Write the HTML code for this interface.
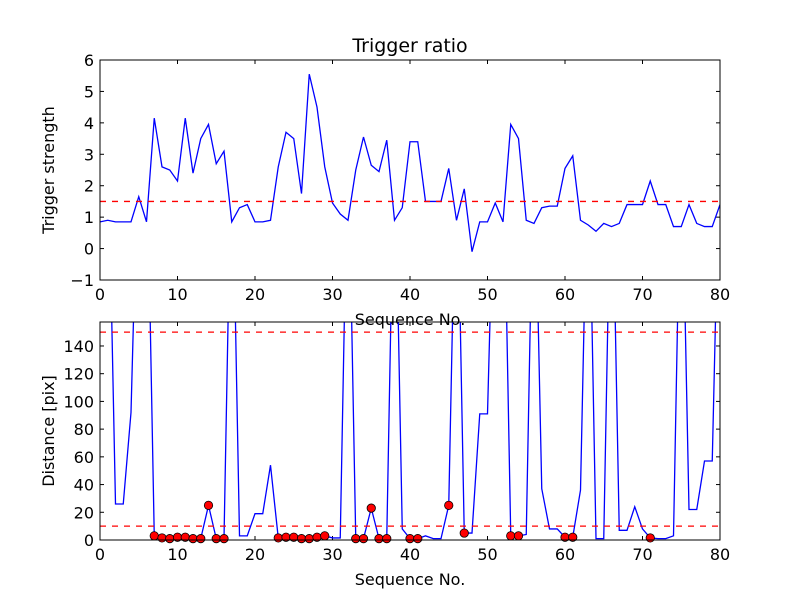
<!DOCTYPE html>
<html><head><meta charset="utf-8"><style>
body{margin:0;background:#fff;}
svg text{font-family:"DejaVu Sans","Liberation Sans",sans-serif;fill:#000;}
</style></head><body>
<svg id="fig" width="800" height="600" viewBox="0 0 800 600" xmlns="http://www.w3.org/2000/svg">
<rect width="800" height="600" fill="#fff"/>
</svg>
<script>
const seqIndex = Array.from({length:81},(_, i)=>i);
const triggerStrength = [0.85,0.9,0.85,0.85,0.85,1.65,0.85,4.15,2.6,2.5,2.15,4.15,2.4,3.5,3.95,2.7,3.1,0.85,1.3,1.4,0.85,0.85,0.9,2.6,3.7,3.5,1.75,5.55,4.5,2.6,1.45,1.1,0.9,2.5,3.55,2.65,2.45,3.45,0.9,1.3,3.4,3.4,1.5,1.5,1.5,2.55,0.9,1.9,-0.1,0.85,0.85,1.45,0.85,3.95,3.5,0.9,0.8,1.3,1.35,1.35,2.55,2.95,0.9,0.75,0.55,0.8,0.7,0.8,1.4,1.4,1.4,2.15,1.4,1.4,0.7,0.7,1.4,0.8,0.7,0.7,1.4];
const distance = [300,300,26,26,92,300,300,3,1.5,1,2,2,1,1,25,1,1,300,3,3,19,19,54,1.5,2,2,1,1,2,3,1.5,1.5,300,1,1,23,1,1,300,8,1,1,3,1,1,25,300,5,5,91,91,300,300,3,3,4,300,37,8,8,2,2,36,300,1,1,300,7,7,24,8,1.5,1,1,3,300,22,22,57,57,300];
const dotIdx = [7,8,9,10,11,12,13,14,15,16,23,24,25,26,27,28,29,33,34,35,36,37,40,41,45,47,53,54,60,61,71];
const xTicks = [0,10,20,30,40,50,60,70,80];
const topYTicks = [-1,0,1,2,3,4,5,6];
const botYTicks = [0,20,40,60,80,100,120,140];
const topThreshold = 1.5;
const botThresholds = [10,150];

const NS='http://www.w3.org/2000/svg';
const svg=document.getElementById('fig');
function mk(tag,attrs,parent){const e=document.createElementNS(NS,tag);for(const k in attrs)e.setAttribute(k,attrs[k]);(parent||svg).appendChild(e);return e;}
const X0=100,X1=720;
const xs=v=>X0+(v-0)/80*(X1-X0);

function axes(name,top,bottom,ymin,ymax,yticks,ylabel,title){
  const g=mk('g',{});
  
  
  const ys=v=>bottom-(v-ymin)/(ymax-ymin)*(bottom-top);
  const clipId=name+'-clip';
  const cp=mk('clipPath',{id:clipId},g);mk('rect',{x:X0,y:top,width:X1-X0,height:bottom-top},cp);
  // x ticks
  xTicks.forEach(t=>{
    const x=xs(t);
    mk('line',{x1:x,y1:bottom,x2:x,y2:bottom-4,stroke:'#000'},g);
    mk('line',{x1:x,y1:top,x2:x,y2:top+4,stroke:'#000'},g);
    const tx=mk('text',{x:x,y:bottom+20,'text-anchor':'middle','font-size':'16'},g);
    
    
    tx.textContent=t;
  });
  yticks.forEach(t=>{
    const y=ys(t);
    mk('line',{x1:X0,y1:y,x2:X0+4,y2:y,stroke:'#000'},g);
    mk('line',{x1:X1,y1:y,x2:X1-4,y2:y,stroke:'#000'},g);
    const tx=mk('text',{x:X0-6,y:y+6,'text-anchor':'end','font-size':'16'},g);
    
    
    tx.textContent=t<0?'\u2212'+(-t):t;
  });
  const xl=mk('text',{x:(X0+X1)/2,y:bottom+45,'text-anchor':'middle','font-size':'16'},g);
  
  
  xl.textContent='Sequence No.';
  const yl=mk('text',{x:0,y:0,'text-anchor':'middle','font-size':'16',transform:`translate(${X0-46},${(top+bottom)/2}) rotate(-90)`},g);
  
  
  yl.textContent=ylabel;
  if(title){const tt=mk('text',{x:(X0+X1)/2,y:top-8,'text-anchor':'middle','font-size':'19'},g);
    
    
    tt.textContent=title;}
  return {g,ys,clipId,top,bottom};
}

// Top
const A=axes('trigger-axes',60,280,-1,6,topYTicks,'Trigger strength','Trigger ratio');
const pl=mk('polyline',{points:seqIndex.map(i=>xs(i)+','+A.ys(triggerStrength[i])).join(' '),fill:'none',stroke:'#0000ff','stroke-width':'1.3','clip-path':`url(#${A.clipId})`},A.g);


const th=mk('line',{x1:X0,x2:X1,y1:A.ys(topThreshold),y2:A.ys(topThreshold),stroke:'#ff0000','stroke-width':'1.3','stroke-dasharray':'6,6'},A.g);


mk('rect',{x:X0,y:60,width:X1-X0,height:220,fill:'none',stroke:'#000','stroke-width':'1'},A.g);

// Bottom
const B=axes('distance-axes',322,540,0,157.3,botYTicks,'Distance [pix]',null);
const pl2=mk('polyline',{points:seqIndex.map(i=>xs(i)+','+B.ys(distance[i])).join(' '),fill:'none',stroke:'#0000ff','stroke-width':'1.3','clip-path':`url(#${B.clipId})`},B.g);


botThresholds.forEach(t=>{
  const l=mk('line',{x1:X0,x2:X1,y1:B.ys(t),y2:B.ys(t),stroke:'#ff0000','stroke-width':'1.3','stroke-dasharray':'6,6'},B.g);
  
  
});
dotIdx.forEach(i=>{
  const c=mk('circle',{cx:xs(i),cy:B.ys(distance[i]),r:4.2,fill:'#ff0000',stroke:'#000','stroke-width':'0.8'},B.g);
  
  
});
mk('rect',{x:X0,y:322,width:X1-X0,height:218,fill:'none',stroke:'#000','stroke-width':'1'},B.g);
</script>
</body></html>
